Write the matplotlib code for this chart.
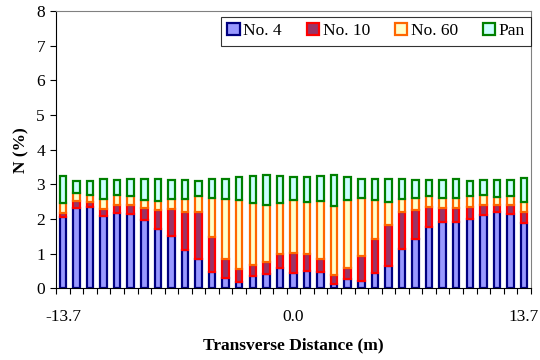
import matplotlib

matplotlib.use("Agg")
import matplotlib.pyplot as plt
import numpy as np
from matplotlib.patches import Patch

plt.rcParams["font.family"] = ["Liberation Serif", "DejaVu Serif"]

# cumulative tops (%), 35 sampling positions across the section
top_no4 = [2.07, 2.31, 2.34, 2.10, 2.18, 2.16, 1.97, 1.70, 1.51, 1.10, 0.85, 0.47,
           0.29, 0.19, 0.36, 0.41, 0.58, 0.43, 0.50, 0.48, 0.12, 0.26, 0.22, 0.43,
           0.64, 1.13, 1.42, 1.78, 1.92, 1.92, 2.00, 2.11, 2.21, 2.16, 1.88]
top_no10 = [2.18, 2.53, 2.50, 2.29, 2.40, 2.42, 2.31, 2.26, 2.29, 2.21, 2.19, 1.47,
            0.86, 0.55, 0.66, 0.77, 1.00, 1.01, 0.98, 0.85, 0.40, 0.59, 0.93, 1.43,
            1.83, 2.19, 2.26, 2.34, 2.33, 2.31, 2.34, 2.40, 2.40, 2.42, 2.19]
top_no60 = [2.45, 2.74, 2.69, 2.57, 2.69, 2.67, 2.55, 2.53, 2.57, 2.57, 2.67, 2.60,
            2.59, 2.54, 2.46, 2.41, 2.47, 2.55, 2.48, 2.52, 2.38, 2.55, 2.61, 2.54,
            2.50, 2.57, 2.60, 2.66, 2.62, 2.62, 2.66, 2.69, 2.64, 2.67, 2.50]
top_pan = [3.24, 3.10, 3.10, 3.17, 3.12, 3.15, 3.17, 3.17, 3.14, 3.12, 3.10, 3.15,
           3.16, 3.20, 3.25, 3.27, 3.25, 3.20, 3.22, 3.25, 3.27, 3.20, 3.15, 3.17,
           3.17, 3.15, 3.12, 3.12, 3.12, 3.17, 3.10, 3.14, 3.12, 3.12, 3.19]

series_names = ["No. 4", "No. 10", "No. 60", "Pan"]
x_labels = {0: "-13.7", 17: "0.0", 34: "13.7"}

fills = ["#9999FF", "#993366", "#FFFFCC", "#CCFFFF"]
edges = ["#000080", "#FF0000", "#FF6600", "#008000"]

tops = np.array([top_no4, top_no10, top_no60, top_pan])
bottoms = np.vstack([np.zeros(tops.shape[1]), tops[:-1]])
heights = tops - bottoms
x = np.arange(tops.shape[1])

fs = 12.5

fig = plt.figure(figsize=(5.4, 3.6), dpi=100)
ax = fig.add_axes([0.104, 0.199, 0.879, 0.770])

for h, b, fc, ec in zip(heights, bottoms, fills, edges):
    ax.bar(x, h, bottom=b, width=0.48, color=fc, edgecolor=ec, linewidth=1.6)

ax.set_xlim(-0.5, len(x) - 0.5)
ax.set_ylim(0, 8)
ax.set_yticks(range(0, 9))
ax.tick_params(axis="y", direction="out", length=4, width=0.8, labelsize=fs, pad=4)

# category ticks between bars, labels at three positions
ax.set_xticks(np.arange(len(x) + 1) - 0.5, minor=False)
ax.set_xticklabels([])
ax.tick_params(axis="x", direction="out", length=4, width=0.8)
for i, lab in x_labels.items():
    ax.text(i, -0.075, lab, transform=ax.get_xaxis_transform(), ha="center", va="top", fontsize=fs)

for side in ["top", "right"]:
    ax.spines[side].set_color("#808080")
    ax.spines[side].set_linewidth(0.8)
for side in ["left", "bottom"]:
    ax.spines[side].set_linewidth(0.8)

ax.set_ylabel("N (%)", fontsize=fs, fontweight="bold", labelpad=5)
ax.set_xlabel("Transverse Distance (m)", fontsize=fs, fontweight="bold", labelpad=28)

handles = [Patch(facecolor=fc, edgecolor=ec, linewidth=1.6) for fc, ec in zip(fills, edges)]
leg = ax.legend(handles, series_names, loc="upper right", bbox_to_anchor=(1.0, 0.978),
                ncol=4, fontsize=fs, frameon=True, fancybox=False, borderaxespad=0,
                handlelength=0.7, handleheight=0.7, handletextpad=0.2, columnspacing=1.45,
                borderpad=0.35)
leg.get_frame().set_edgecolor("black")
leg.get_frame().set_linewidth(0.8)

fig.savefig("out.png", dpi=100)
